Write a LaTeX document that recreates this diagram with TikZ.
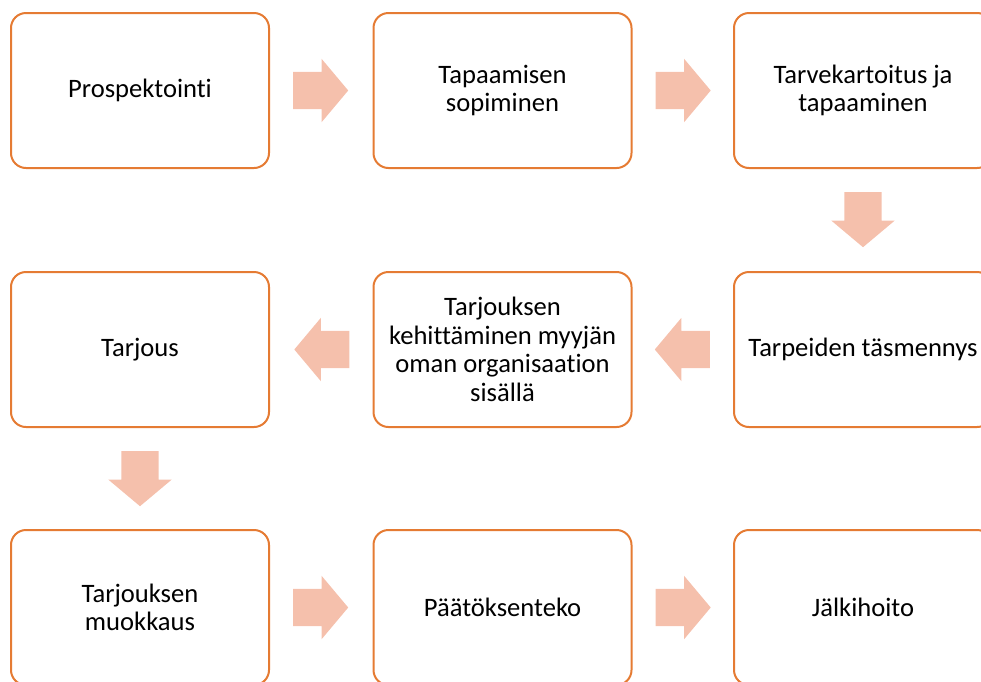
\documentclass[tikz,border=0pt]{standalone}
\usepackage{fontspec}
\setmainfont{Carlito}[Ligatures=NoCommon]
\usepackage{xcolor}
\usepackage{tikz}
\usetikzlibrary{calc, shapes.arrows}
\definecolor{boxorange}{RGB}{229,123,51}
\definecolor{arrowpink}{RGB}{245,192,172}
\tikzset{
	stepbox/.style={draw=boxorange, line width=2pt, rounded corners=15pt, minimum width=258pt, minimum height=155pt, align=center, inner sep=0pt, font=\fontsize{26.6}{28.5}\selectfont},
	flowarrow/.style={single arrow, fill=arrowpink, minimum height=55pt, minimum width=63pt, single arrow head extend=13pt, single arrow tip angle=100, inner xsep=0pt, inner ysep=18.5pt, anchor=tail, rotate=#1},
}

\begin{document}
\begin{tikzpicture}[x=1pt, y=-1pt]
				\useasboundingbox (0,0) rectangle (981,681);
				% row 1
				\node[stepbox] (pro) at (140,90.5) {Prospektointi};
				\node[stepbox] (sop) at (502.5,90.5) {Tapaamisen\\sopiminen};
				\node[stepbox] (kar) at (863,90.5) {Tarvekartoitus ja\\tapaaminen};
				% row 2
				\node[stepbox] (tas) at (863,349.5) {Tarpeiden täsmennys};
				\node[stepbox] (keh) at (502.5,349.5) {Tarjouksen\\kehittäminen myyjän\\oman organisaation\\sisällä};
				\node[stepbox] (tar) at (140,349.5) {Tarjous};
				% row 3
				\node[stepbox] (muo) at (140,607.5) {Tarjouksen\\muokkaus};
				\node[stepbox] (paa) at (502.5,607.5) {Päätöksenteko};
				\node[stepbox] (jal) at (863,607.5) {Jälkihoito};
				% arrows, tail 23pt off the box they leave
				\node[flowarrow=0] (a1) at ($(pro.east)!23pt!(sop.west)$) {};
				\node[flowarrow=0] (a2) at ($(sop.east)!23pt!(kar.west)$) {};
				\node[flowarrow=-90] (a3) at ($(kar.south)!23pt!(tas.north)$) {};
				\node[flowarrow=180] (a4) at ($(tas.west)!23pt!(keh.east)$) {};
				\node[flowarrow=180] (a5) at ($(keh.west)!23pt!(tar.east)$) {};
				\node[flowarrow=-90] (a6) at ($(tar.south)!23pt!(muo.north)$) {};
				\node[flowarrow=0] (a7) at ($(muo.east)!23pt!(paa.west)$) {};
				\node[flowarrow=0] (a8) at ($(paa.east)!23pt!(jal.west)$) {};
			\end{tikzpicture}
\end{document}
